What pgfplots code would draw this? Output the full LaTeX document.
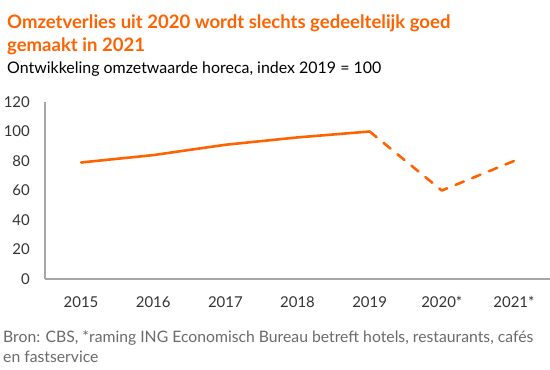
\documentclass[border=0pt]{standalone}
\usepackage{fontspec}
\setmainfont{Lato}
\usepackage{pgfplots}
\pgfplotsset{compat=1.18}
\definecolor{ingorange}{HTML}{FF6200}
\definecolor{axisgray}{HTML}{A6A6A6}
\definecolor{ticktext}{HTML}{333333}
\definecolor{notegray}{HTML}{6A6A6A}
\begin{document}
\begin{tikzpicture}[x=1bp,y=1bp]
\path[use as bounding box] (0,0) rectangle (550,-369);
\node[anchor=base west, text=ingorange, font=\fontsize{18.6}{21}\selectfont\bfseries, inner sep=0] at (7,-28) {Omzetverlies uit 2020 wordt slechts gedeeltelijk goed};
\node[anchor=base west, text=ingorange, font=\fontsize{18.6}{21}\selectfont\bfseries, inner sep=0] at (7,-51) {gemaakt in 2021};
\node[anchor=base west, text=black, font=\fontsize{16}{18}\selectfont, inner sep=0] at (7,-73) {Ontwikkeling omzetwaarde horeca, index 2019 = 100};
\node[anchor=base west, text=notegray, font=\fontsize{15.8}{17}\selectfont, inner sep=0] at (3,-342) {Bron: CBS, *raming ING Economisch Bureau betreft hotels, restaurants, cafés};
\node[anchor=base west, text=notegray, font=\fontsize{15.8}{17}\selectfont, inner sep=0] at (3,-362) {en fastservice};
\begin{axis}[
  at={(45bp,-279bp)}, anchor=south west,
  width=505bp, height=177bp, scale only axis,
  xmin=-0.5, xmax=6.5, ymin=0, ymax=120,
  ytick={0,20,...,120},
  xtick={0,...,6},
  xticklabels={2015,2016,2017,2018,2019,2020*,2021*},
  axis x line=bottom, axis y line=left,
  axis line style={axisgray, line width=1.5bp, -},
  major tick length=0,
  tick label style={font=\fontsize{15}{18}\selectfont, text=ticktext, inner sep=0},
  yticklabel style={anchor=east, xshift=-15bp},
  xticklabel style={anchor=base, yshift=-28bp},
  /pgf/number format/assume math mode=true,
  clip=false,
]
\addplot[ingorange, line width=2.6bp, line join=round, line cap=round] coordinates {(0,79) (1,84) (2,91) (3,96) (4,100)};
\addplot[ingorange, line width=2.6bp, line join=round, line cap=round, dash pattern=on 9bp off 9bp] coordinates {(4,100) (5,60) (6,80)};
\end{axis}
\end{tikzpicture}
\end{document}
